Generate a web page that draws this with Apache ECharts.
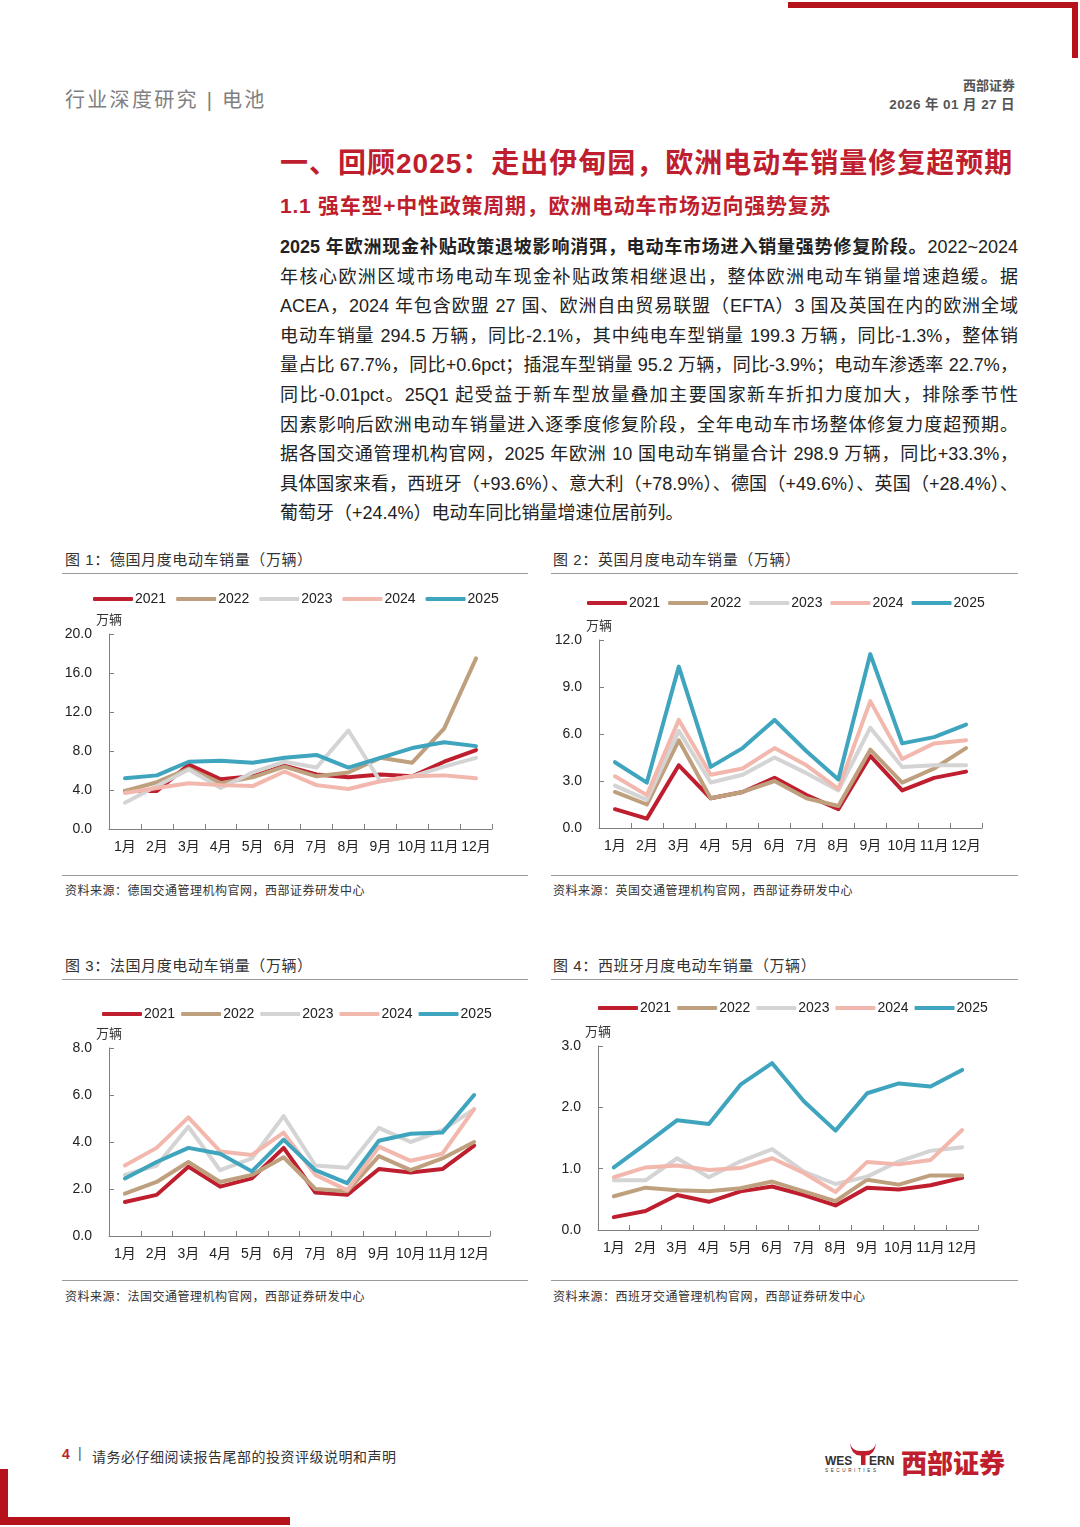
<!DOCTYPE html>
<html>
<head>
<meta charset="utf-8">
<script src="https://cdn.jsdelivr.net/npm/echarts@6.0.0/dist/echarts.min.js"></script>
<style>
  html, body { margin:0; padding:0; background:#fff; }
  body { width:1080px; height:1527px; position:relative; overflow:hidden;
         font-family:'Liberation Sans','Noto Sans CJK SC',sans-serif; color:#222; }
  .abs { position:absolute; white-space:nowrap; }
  .para { position:absolute; left:280px; top:233px; width:738px; font-size:18px; line-height:29.6px; color:#222; }
  .para div { text-align:justify; text-align-last:justify; white-space:nowrap; }
  .para div.last { text-align-last:left; }
  .cap { font-size:15px; color:#333; letter-spacing:0.6px; }
  .src { font-size:12px; color:#333; letter-spacing:0.5px; }
  .hr { position:absolute; height:0; border-top:1px solid #9a9a9a; }
  .chart { position:absolute; width:470px; height:285px; }
</style>
</head>
<body>
<!-- top decoration -->
<div class="abs" style="left:788px;top:2px;width:290px;height:6px;background:#B5121B;"></div>
<div class="abs" style="left:1072px;top:2px;width:6px;height:56px;background:#B5121B;"></div>

<div class="abs" style="left:65px;top:84px;font-size:20px;color:#808080;letter-spacing:2.3px;">行业深度研究 | 电池</div>
<div class="abs" style="right:65px;top:75px;font-size:13px;font-weight:700;color:#555;">西部证券</div>
<div class="abs" style="right:65px;top:93px;font-size:13.5px;font-weight:700;color:#555;letter-spacing:0.4px;">2026 年 01 月 27 日</div>

<div class="abs" style="left:280px;top:141px;font-size:28px;font-weight:700;color:#BE1E2D;letter-spacing:1.0px;">一、回顾2025：走出伊甸园，欧洲电动车销量修复超预期</div>
<div class="abs" style="left:280px;top:189px;font-size:21px;font-weight:700;color:#BE1E2D;letter-spacing:0.75px;">1.1 强车型+中性政策周期，欧洲电动车市场迈向强势复苏</div>

<div class="para">
  <div><b>2025 年欧洲现金补贴政策退坡影响消弭，电动车市场进入销量强势修复阶段。</b>2022~2024</div>
  <div>年核心欧洲区域市场电动车现金补贴政策相继退出，整体欧洲电动车销量增速趋缓。据</div>
  <div>ACEA，2024 年包含欧盟 27 国、欧洲自由贸易联盟（EFTA）3 国及英国在内的欧洲全域</div>
  <div>电动车销量 294.5 万辆，同比-2.1%，其中纯电车型销量 199.3 万辆，同比-1.3%，整体销</div>
  <div>量占比 67.7%，同比+0.6pct；插混车型销量 95.2 万辆，同比-3.9%；电动车渗透率 22.7%，</div>
  <div>同比-0.01pct。25Q1 起受益于新车型放量叠加主要国家新车折扣力度加大，排除季节性</div>
  <div>因素影响后欧洲电动车销量进入逐季度修复阶段，全年电动车市场整体修复力度超预期。</div>
  <div>据各国交通管理机构官网，2025 年欧洲 10 国电动车销量合计 298.9 万辆，同比+33.3%，</div>
  <div>具体国家来看，西班牙（+93.6%）、意大利（+78.9%）、德国（+49.6%）、英国（+28.4%）、</div>
  <div class="last">葡萄牙（+24.4%）电动车同比销量增速位居前列。</div>
</div>

<!-- captions and rules -->
<div class="abs cap" style="left:65px;top:548px;">图 1：德国月度电动车销量（万辆）</div>
<div class="abs cap" style="left:553px;top:548px;">图 2：英国月度电动车销量（万辆）</div>
<div class="hr" style="left:62px;top:573px;width:466px;"></div>
<div class="hr" style="left:551px;top:573px;width:467px;"></div>
<div class="hr" style="left:62px;top:875px;width:466px;"></div>
<div class="hr" style="left:551px;top:875px;width:467px;"></div>
<div class="abs src" style="left:65px;top:881px;">资料来源：德国交通管理机构官网，西部证券研发中心</div>
<div class="abs src" style="left:553px;top:881px;">资料来源：英国交通管理机构官网，西部证券研发中心</div>

<div class="abs cap" style="left:65px;top:954px;">图 3：法国月度电动车销量（万辆）</div>
<div class="abs cap" style="left:553px;top:954px;">图 4：西班牙月度电动车销量（万辆）</div>
<div class="hr" style="left:62px;top:979px;width:466px;"></div>
<div class="hr" style="left:551px;top:979px;width:467px;"></div>
<div class="hr" style="left:62px;top:1280px;width:466px;"></div>
<div class="hr" style="left:551px;top:1280px;width:467px;"></div>
<div class="abs src" style="left:65px;top:1287px;">资料来源：法国交通管理机构官网，西部证券研发中心</div>
<div class="abs src" style="left:553px;top:1287px;">资料来源：西班牙交通管理机构官网，西部证券研发中心</div>

<div id="c1" class="chart" style="left:55px;top:580px;"></div>
<div id="c2" class="chart" style="left:545px;top:580px;"></div>
<div id="c3" class="chart" style="left:55px;top:995px;"></div>
<div id="c4" class="chart" style="left:545px;top:995px;"></div>

<!-- footer -->
<div class="abs" style="left:62px;top:1446px;font-size:14px;font-weight:700;color:#BE1E2D;">4</div>
<div class="abs" style="left:78px;top:1445px;font-size:14px;color:#555;">|</div>
<div class="abs" style="left:92px;top:1446px;font-size:14px;color:#333;letter-spacing:0.5px;">请务必仔细阅读报告尾部的投资评级说明和声明</div>
<svg class="abs" style="left:822px;top:1440px;" width="80" height="36" viewBox="0 0 80 36">
  <path d="M28 3 Q30 11 38 11 L44 11 Q52 11 54 3 Q53 15 44 15.5 L38 15.5 Q29 15 28 3 Z" fill="#BE1E2D"/>
  <rect x="39" y="14" width="4.5" height="11" fill="#BE1E2D"/>
  <text x="3" y="25" font-family="Liberation Sans" font-weight="700" font-size="12" fill="#333">WES</text>
  <text x="47" y="25" font-family="Liberation Sans" font-weight="700" font-size="12" fill="#333">ERN</text>
  <text x="3" y="32" font-family="Liberation Sans" font-size="4.6" letter-spacing="2.6" fill="#333">SECURITIES</text>
</svg>
<div class="abs" style="left:901px;top:1443px;font-size:26px;font-weight:900;color:#BE1E2D;">西部证券</div>
<div class="abs" style="left:0px;top:1469px;width:8px;height:56px;background:#B5121B;"></div>
<div class="abs" style="left:0px;top:1517px;width:290px;height:8px;background:#B5121B;"></div>

<script>
// ---------- data ----------
var months = ['1月','2月','3月','4月','5月','6月','7月','8月','9月','10月','11月','12月'];
var years = ['2021','2022','2023','2024','2025'];
var yearColors = ['#BE1E2D','#BFA07E','#D4D4D4','#F2B8AE','#3FA4BD'];

// 德国
var de2021 = [3.9, 3.9, 6.6, 5.1, 5.4, 6.5, 5.6, 5.3, 5.6, 5.4, 6.9, 8.1];
var de2022 = [3.9, 4.8, 6.2, 4.7, 5.3, 6.4, 5.4, 5.8, 7.3, 6.8, 10.3, 17.5];
var de2023 = [2.7, 4.4, 6.1, 4.2, 5.8, 6.9, 6.3, 10.1, 4.9, 5.4, 6.4, 7.3];
var de2024 = [3.7, 4.2, 4.7, 4.5, 4.4, 5.9, 4.5, 4.1, 4.9, 5.4, 5.5, 5.2];
var de2025 = [5.2, 5.5, 6.9, 7.0, 6.8, 7.3, 7.6, 6.3, 7.3, 8.3, 8.9, 8.5];
// 英国
var uk2021 = [1.2, 0.6, 4.0, 1.9, 2.3, 3.2, 2.1, 1.2, 4.6, 2.4, 3.2, 3.6];
var uk2022 = [2.3, 1.5, 5.6, 1.9, 2.3, 3.0, 1.9, 1.4, 5.0, 2.9, 3.8, 5.1];
var uk2023 = [2.7, 1.8, 6.2, 2.9, 3.4, 4.5, 3.5, 2.4, 6.4, 3.9, 4.0, 4.0];
var uk2024 = [3.3, 2.1, 6.9, 3.4, 3.8, 5.1, 4.0, 2.5, 8.1, 4.4, 5.4, 5.6];
var uk2025 = [4.2, 2.9, 10.3, 3.9, 5.1, 6.9, 4.9, 3.1, 11.1, 5.4, 5.8, 6.6];
// 法国
var fr2021 = [1.45, 1.75, 2.95, 2.1, 2.45, 3.75, 1.85, 1.75, 2.85, 2.7, 2.85, 3.85];
var fr2022 = [1.8, 2.3, 3.15, 2.3, 2.6, 3.35, 2.0, 1.9, 3.4, 2.8, 3.3, 4.0];
var fr2023 = [2.6, 3.0, 4.65, 2.8, 3.3, 5.1, 3.0, 2.9, 4.6, 4.0, 4.5, 5.4];
var fr2024 = [3.0, 3.75, 5.05, 3.6, 3.45, 4.4, 2.6, 1.95, 3.8, 3.2, 3.5, 5.4];
var fr2025 = [2.45, 3.15, 3.75, 3.5, 2.75, 4.1, 2.8, 2.25, 4.05, 4.35, 4.4, 6.0];
// 西班牙
var es2021 = [0.21, 0.31, 0.57, 0.46, 0.63, 0.71, 0.57, 0.40, 0.69, 0.66, 0.73, 0.85];
var es2022 = [0.55, 0.69, 0.65, 0.63, 0.68, 0.79, 0.63, 0.47, 0.82, 0.74, 0.89, 0.89];
var es2023 = [0.81, 0.81, 1.17, 0.86, 1.12, 1.32, 0.95, 0.75, 0.87, 1.12, 1.29, 1.35];
var es2024 = [0.86, 1.02, 1.05, 0.98, 1.01, 1.17, 0.93, 0.62, 1.11, 1.07, 1.14, 1.63];
var es2025 = [1.02, 1.40, 1.79, 1.73, 2.37, 2.72, 2.10, 1.62, 2.23, 2.39, 2.34, 2.61];

// axis ticks
var deAxis = {max: 20, interval: 4};
var ukAxis = {max: 12, interval: 3};
var frAxis = {max: 8, interval: 2};
var esAxis = {max: 3, interval: 1};

var FONT = "'Liberation Sans','Noto Sans CJK SC',sans-serif";

function build(id, seriesData, axis, layout) {
  var chart = echarts.init(document.getElementById(id));
  chart.setOption({
    animation: false,
    textStyle: {fontFamily: FONT},
    legend: {
      data: years, left: layout.legendLeft, top: layout.legendTop, width: 440,
      padding: 0, orient: 'horizontal',
      icon: 'roundRect', itemWidth: 40, itemHeight: 4, itemGap: layout.legendGap,
      textStyle: {fontSize: 14, color: '#222', fontFamily: FONT, padding: [0, 0, 0, -3]}
    },
    grid: {left: layout.left, top: layout.top, width: layout.width, height: layout.height},
    xAxis: {
      type: 'category', data: months, boundaryGap: true,
      axisLine: {lineStyle: {color: '#7f7f7f', width: 1}},
      axisTick: {show: true, inside: true, length: 5, lineStyle: {color: '#7f7f7f'}},
      axisLabel: {interval: 0, fontSize: 14, color: '#222', margin: 11, fontFamily: FONT}
    },
    yAxis: {
      type: 'value', min: 0, max: axis.max, interval: axis.interval,
      name: '万辆', nameLocation: 'end', nameGap: 6,
      nameTextStyle: {fontSize: 13, color: '#333', fontFamily: FONT},
      axisLine: {show: true, lineStyle: {color: '#7f7f7f', width: 1}},
      axisTick: {show: true, inside: true, length: 5, lineStyle: {color: '#7f7f7f'}},
      splitLine: {show: false},
      axisLabel: {fontSize: 14, color: '#222', margin: 17, fontFamily: FONT,
                  formatter: function (v) { return v.toFixed(1); }}
    },
    series: years.map(function (y, i) {
      return {
        name: y, type: 'line', data: seriesData[i], symbol: 'none', smooth: false,
        lineStyle: {width: 4, color: yearColors[i], cap: 'round', join: 'round'},
        itemStyle: {color: yearColors[i]}
      };
    })
  });
}

build('c1', [de2021, de2022, de2023, de2024, de2025], deAxis,
  {left: 54, top: 54, width: 383, height: 195, legendLeft: 38, legendTop: 12, legendGap: 10});
build('c2', [uk2021, uk2022, uk2023, uk2024, uk2025], ukAxis,
  {left: 54, top: 60, width: 383, height: 188, legendLeft: 42, legendTop: 16, legendGap: 8});
build('c3', [fr2021, fr2022, fr2023, fr2024, fr2025], frAxis,
  {left: 54, top: 53, width: 381, height: 188, legendLeft: 47, legendTop: 12, legendGap: 6});
build('c4', [es2021, es2022, es2023, es2024, es2025], esAxis,
  {left: 53, top: 51, width: 380, height: 184, legendLeft: 53, legendTop: 6, legendGap: 6});
</script>
</body>
</html>
